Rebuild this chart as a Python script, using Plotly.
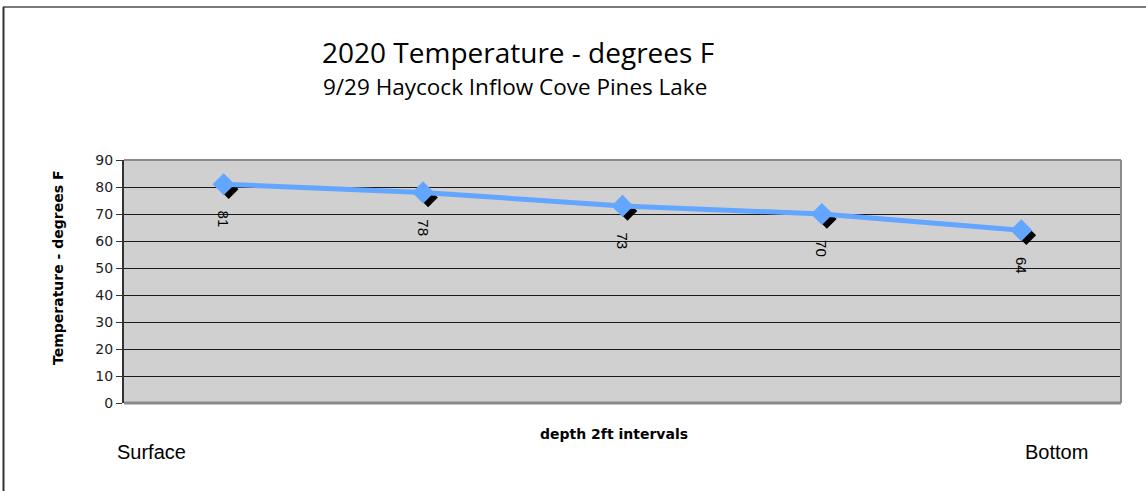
import plotly.graph_objects as go

# Temperature profile at 2 ft depth intervals
depth_steps = [1, 2, 3, 4, 5]
temps_f = [81, 78, 73, 70, 64]
y_ticks = [0, 10, 20, 30, 40, 50, 60, 70, 80, 90]

W, H = 1146, 491
L, R, T, B = 124, 25, 160, 88
pw, ph = W - L - R, H - T - B

def px_x(p):
    return (p - L) / pw

def px_y(p):
    return 1 - (p - T) / ph

y_range = [0, 90]
x_range = [0.5, 5.5]
# drop shadow offset (pixels) expressed in axis units
sdx = 5 * (x_range[1] - x_range[0]) / pw
sdy = 5 * (y_range[1] - y_range[0]) / ph

fig = go.Figure()

# base axes carry grid and ticks
fig.add_trace(go.Scatter(x=depth_steps, y=temps_f, mode="none", hoverinfo="skip",
                         showlegend=False, xaxis="x", yaxis="y"))
# shadow markers
fig.add_trace(go.Scatter(x=depth_steps, y=temps_f, mode="markers", showlegend=False,
                         marker=dict(symbol="diamond", size=15, color="black"),
                         xaxis="x2", yaxis="y2"))
# main series
fig.add_trace(go.Scatter(x=depth_steps, y=temps_f, mode="lines+markers", showlegend=False,
                         line=dict(color="#62A6FF", width=5),
                         marker=dict(symbol="diamond", size=17, color="#62A6FF"),
                         xaxis="x3", yaxis="y3"))

hidden = dict(visible=False, fixedrange=True)

fig.update_layout(
    width=W, height=H,
    margin=dict(l=L, r=R, t=T, b=B),
    paper_bgcolor="white",
    plot_bgcolor="#D0D0D0",
    xaxis=dict(range=x_range, showticklabels=False, showgrid=False,
               zeroline=False, ticks=""),
    yaxis=dict(range=y_range, tickvals=y_ticks, showgrid=True, gridcolor="#1a1a1a",
               gridwidth=1, zeroline=False, ticks="outside", ticklen=6, tickcolor="#333",
               tickfont=dict(family="DejaVu Sans", size=14, color="#222"),
               showline=True, linecolor="#333", linewidth=2),
    xaxis2=dict(range=[x_range[0] - sdx, x_range[1] - sdx], overlaying="x", **hidden),
    yaxis2=dict(range=[y_range[0] + sdy, y_range[1] + sdy], overlaying="y", **hidden),
    xaxis3=dict(range=x_range, overlaying="x", **hidden),
    yaxis3=dict(range=y_range, overlaying="y", **hidden),
)

# plot area border (top, right, bottom)
fig.add_shape(type="line", xref="paper", yref="paper", x0=0, x1=1, y0=1, y1=1,
              line=dict(color="#8a8a8a", width=2))
fig.add_shape(type="line", xref="paper", yref="paper", x0=1, x1=1, y0=0, y1=1,
              line=dict(color="#8a8a8a", width=2))
fig.add_shape(type="line", xref="paper", yref="paper", x0=0, x1=1, y0=0, y1=0,
              line=dict(color="#8a8a8a", width=3))

# outer chart frame (top and left edges)
fig.add_shape(type="line", xref="paper", yref="paper",
              x0=px_x(3), x1=px_x(W), y0=px_y(7), y1=px_y(7),
              line=dict(color="#7a7a7a", width=2))
fig.add_shape(type="line", xref="paper", yref="paper",
              x0=px_x(3.5), x1=px_x(3.5), y0=px_y(7), y1=px_y(H),
              line=dict(color="#333", width=2))

# data labels
for xv, yv in zip(depth_steps, temps_f):
    fig.add_annotation(x=xv, y=yv, xref="x3", yref="y3", text=str(yv), showarrow=False,
                       textangle=90, yshift=-35, xanchor="center", yanchor="middle",
                       font=dict(family="Liberation Sans", size=15, color="black"))

def label(px, py, text, size, family, angle=0):
    fig.add_annotation(x=px_x(px), y=px_y(py), xref="paper", yref="paper",
                       text=text, showarrow=False, textangle=angle,
                       xanchor="center", yanchor="middle",
                       font=dict(family=family, size=size, color="black"))

# titles and axis captions
label(518, 52, "2020 Temperature - degrees F", 28, "Open Sans")
label(515, 87, "9/29 Haycock Inflow Cove Pines Lake", 22.5, "Open Sans")
label(58, 268, "<b>Temperature - degrees F</b>", 14, "DejaVu Sans", -90)
label(614, 434, "<b>depth 2ft intervals</b>", 14, "DejaVu Sans")
label(151, 452, "Surface", 20, "Liberation Sans")
label(1056, 452, "Bottom", 20, "Liberation Sans")

fig.write_html("out.html")
